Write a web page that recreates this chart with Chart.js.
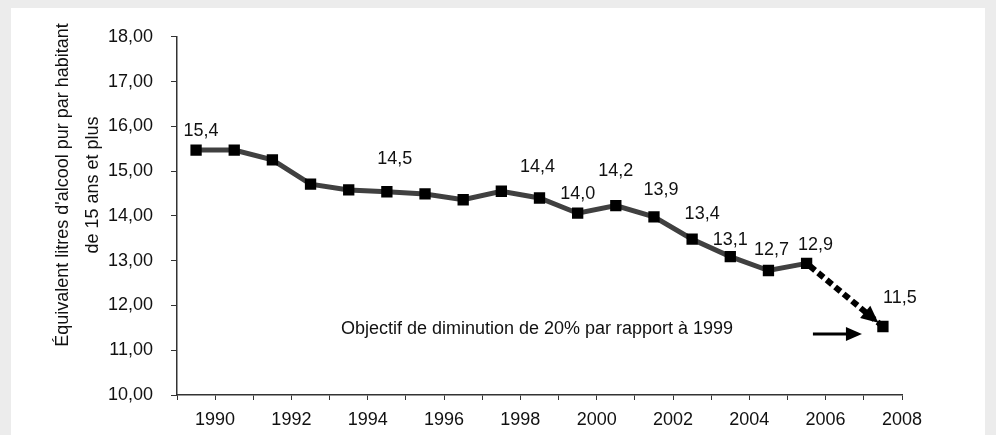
<!DOCTYPE html>
<html>
<head>
<meta charset="utf-8">
<script src="https://cdn.jsdelivr.net/npm/chart.js@4/dist/chart.umd.min.js"></script>
<style>
  html, body { margin: 0; padding: 0; background: #ececec; }
  #panel { position: absolute; left: 11px; top: 8px; width: 974px; height: 427px; background: #fff; }
  canvas { display: block; }
</style>
</head>
<body>
<div id="panel"><canvas id="chart" width="974" height="427"></canvas></div>
<script>
// years on the category axis (2007 has no value)
const years = ['1990', '1991', '1992', '1993', '1994', '1995', '1996', '1997', '1998', '1999',
               '2000', '2001', '2002', '2003', '2004', '2005', '2006', '2007', '2008'];

// litres of pure alcohol per inhabitant aged 15+
const consumption = [15.47, 15.47, 15.25, 14.71, 14.58, 14.54, 14.49, 14.36, 14.55, 14.40,
                     14.06, 14.23, 13.98, 13.48, 13.09, 12.78, 12.94, null, null];

// target path: last observed year -> objective for 2008
const objective = [null, null, null, null, null, null, null, null, null, null,
                   null, null, null, null, null, null, 12.94, null, 11.53];

// value labels shown on the chart
const valueLabels = ['15,4', null, null, null, null, '14,5', null, null, null, '14,4',
                     '14,0', '14,2', '13,9', '13,4', '13,1', '12,7', '12,9', null, '11,5'];

const yTitle = ["Équivalent litres d'alcool pur par habitant", 'de 15 ans et plus'];
const note = 'Objectif de diminution de 20% par rapport à 1999';

// where each value label sits relative to its marker (dx, dy)
const labelNudge = {
    0: [5, -19], 5: [8, -33], 9: [-2, -31], 10: [0, -19], 11: [0, -35], 12: [7, -27],
    13: [10, -25], 14: [0, -17], 15: [3, -20], 16: [9, -18], 18: [17, -28]
};

const FONT = "'Liberation Sans', Arial, sans-serif";
const TEXT = '#111';

const extras = {
    id: 'extras',
    afterDatasetsDraw(chart) {
        const ctx = chart.ctx;
        const area = chart.chartArea;
        const target = chart.getDatasetMeta(0).data;
        const main = chart.getDatasetMeta(1).data;

        // arrow head at the end of the dotted objective line
        const a = target[16], b = target[18];
        let dx = b.x - a.x, dy = b.y - a.y;
        const len = Math.sqrt(dx * dx + dy * dy);
        dx /= len; dy /= len;
        const tipX = b.x - dx * 6, tipY = b.y - dy * 6;
        const baseX = tipX - dx * 17, baseY = tipY - dy * 17;
        ctx.save();
        ctx.fillStyle = '#000';
        ctx.beginPath();
        ctx.moveTo(tipX, tipY);
        ctx.lineTo(baseX - dy * 8, baseY + dx * 8);
        ctx.lineTo(baseX + dy * 8, baseY - dx * 8);
        ctx.closePath();
        ctx.fill();

        // small arrow pointing at the objective
        const ay = b.y + 7.5;
        ctx.strokeStyle = '#000';
        ctx.lineWidth = 3;
        ctx.beginPath();
        ctx.moveTo(b.x - 70, ay);
        ctx.lineTo(b.x - 36, ay);
        ctx.stroke();
        ctx.beginPath();
        ctx.moveTo(b.x - 21, ay);
        ctx.lineTo(b.x - 37, ay - 7);
        ctx.lineTo(b.x - 37, ay + 7);
        ctx.closePath();
        ctx.fill();

        // value labels
        ctx.font = '18px ' + FONT;
        ctx.fillStyle = TEXT;
        ctx.textAlign = 'center';
        ctx.textBaseline = 'middle';
        valueLabels.forEach((txt, i) => {
            if (!txt) return;
            const pt = i === 18 ? target[18] : main[i];
            const n = labelNudge[i] || [0, -20];
            ctx.fillText(txt, pt.x + n[0], pt.y + n[1]);
        });

        // note
        ctx.fillText(note, area.left + 360, chart.scales.y.getPixelForValue(11.48));

        // y axis title, two rotated lines
        ctx.translate(52, 177);
        ctx.rotate(-Math.PI / 2);
        ctx.fillText(yTitle[0], 0, 0);
        ctx.fillText(yTitle[1], 0, 30);
        ctx.restore();
    }
};

new Chart(document.getElementById('chart'), {
    type: 'line',
    data: {
        labels: years,
        datasets: [{
            data: objective,
            spanGaps: true,
            borderColor: '#000',
            borderWidth: 6,
            borderDash: [7, 4],
            borderDashOffset: -4,
            pointStyle: 'rect',
            pointRadius: c => c.dataIndex === 18 ? 8 : 0,
            pointBackgroundColor: '#000',
            pointBorderColor: '#000',
            pointBorderWidth: 0,
            order: 2
        }, {
            data: consumption,
            borderColor: '#404040',
            borderWidth: 5,
            pointStyle: 'rect',
            pointRadius: 8,
            pointBackgroundColor: '#000',
            pointBorderColor: '#000',
            pointBorderWidth: 0,
            order: 1
        }]
    },
    options: {
        responsive: false,
        animation: false,
        layout: { padding: { top: 25, right: 83, bottom: 0, left: 0 } },
        plugins: { legend: { display: false }, tooltip: { enabled: false } },
        scales: {
            x: {
                type: 'category',
                offset: true,
                grid: { offset: true, drawOnChartArea: false, tickLength: 5, color: '#333' },
                border: { color: '#333', width: 1.5 },
                ticks: {
                    autoSkip: false,
                    maxRotation: 0,
                    labelOffset: 19,
                    padding: 9,
                    color: TEXT,
                    font: { family: FONT, size: 18 },
                    callback: (v, i) => Number(years[i]) % 2 === 0 ? years[i] : ''
                },
                afterFit: s => { s.height = 40; }
            },
            y: {
                min: 10,
                max: 18,
                grid: { drawOnChartArea: false, tickLength: 6, color: '#333' },
                border: { color: '#333', width: 1.5 },
                ticks: {
                    stepSize: 1,
                    padding: 18,
                    color: TEXT,
                    font: { family: FONT, size: 18 },
                    callback: v => v.toFixed(2).replace('.', ',')
                },
                afterFit: s => { s.width = 166; }
            }
        }
    },
    plugins: [extras]
});
</script>
</body>
</html>
